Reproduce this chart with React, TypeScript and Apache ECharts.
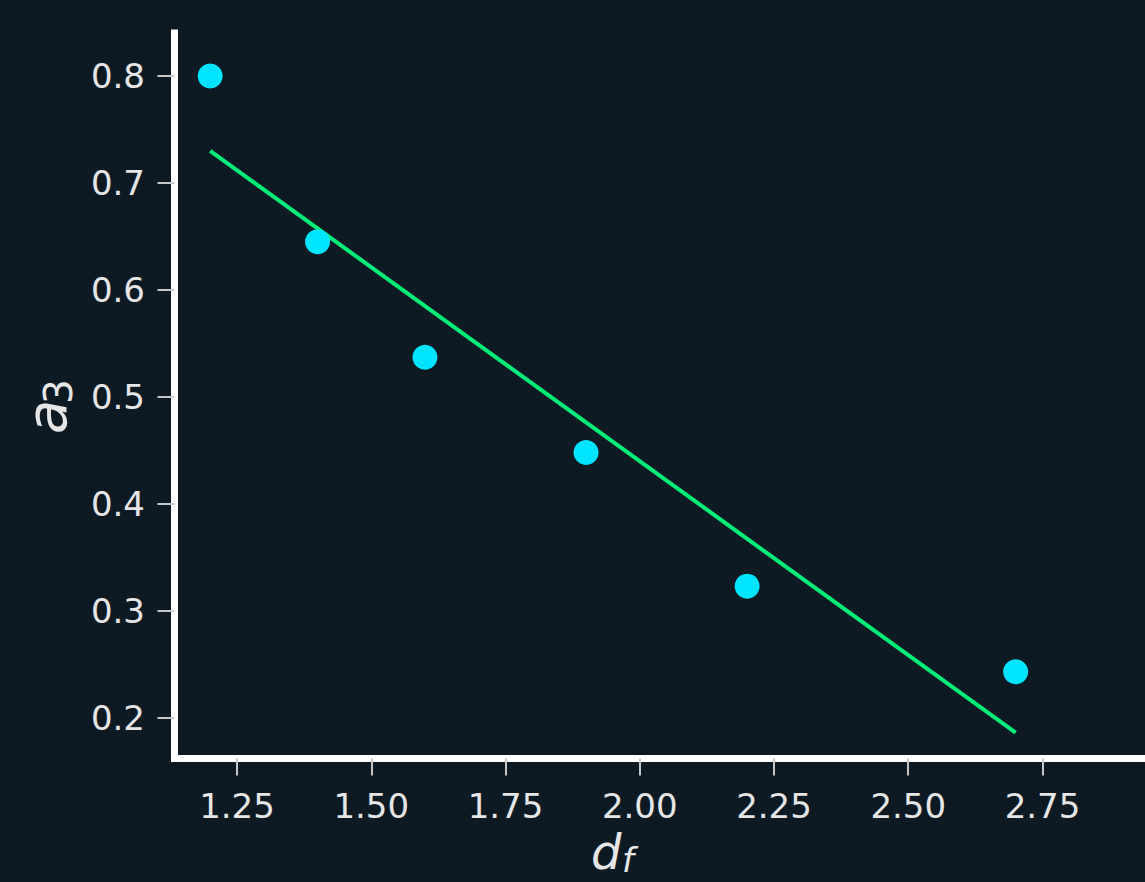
import React, { useEffect, useRef } from "react";
import * as echarts from "echarts";

const dfValues = [1.2, 1.4, 1.6, 1.9, 2.2, 2.7];
const a3Values = [0.8, 0.645, 0.537, 0.448, 0.323, 0.243];
const fitX = [1.2, 2.7];
const fitY = [0.73, 0.186];
const xTicks = [1.25, 1.5, 1.75, 2.0, 2.25, 2.5, 2.75];
const yTicks = [0.2, 0.3, 0.4, 0.5, 0.6, 0.7, 0.8];

const BG = "#0d1a24";
const TEXT = "#e6e6e6";

export default function App() {
  const ref = useRef<HTMLDivElement>(null);
  useEffect(() => {
    document.body.style.margin = "0";
    document.body.style.background = BG;
    const chart = echarts.init(ref.current!, undefined, { renderer: "svg" });
    const labelFont = { fontFamily: "DejaVu Sans", fontSize: 34, color: TEXT };
    chart.setOption({
      animation: false,
      backgroundColor: BG,
      grid: { left: 174.5, right: 0, top: 33, bottom: 123.5, containLabel: false },
      xAxis: {
        type: "value",
        min: 1.1336,
        max: 2.9409,
        splitLine: { show: false },
        axisLine: { show: true, lineStyle: { color: "#ffffff", width: 7, cap: "square" } },
        axisTick: {
          show: true,
          customValues: xTicks,
          length: 17,
          lineStyle: { color: "#c8c8c8", width: 2 },
        },
        axisLabel: {
          ...labelFont,
          customValues: xTicks,
          margin: 30,
          formatter: (v: number) => v.toFixed(2),
        },
      },
      yAxis: {
        type: "value",
        min: 0.16185,
        max: 0.84021,
        splitLine: { show: false },
        axisLine: { show: true, lineStyle: { color: "#ffffff", width: 7, cap: "square" } },
        axisTick: {
          show: true,
          customValues: yTicks,
          length: 17,
          lineStyle: { color: "#c8c8c8", width: 2 },
        },
        axisLabel: {
          ...labelFont,
          customValues: yTicks,
          margin: 29.5,
          formatter: (v: number) => v.toFixed(1),
        },
      },
      series: [
        {
          type: "line",
          data: fitX.map((x, i) => [x, fitY[i]]),
          showSymbol: false,
          symbol: "none",
          lineStyle: { color: "#00ee78", width: 4 },
          z: 2,
        },
        {
          type: "scatter",
          data: dfValues.map((x, i) => [x, a3Values[i]]),
          symbolSize: 25,
          itemStyle: { color: "#00e5ff", opacity: 1 },
          z: 3,
        },
      ],
      graphic: [
        {
          type: "group",
          x: 66,
          y: 432,
          rotation: Math.PI / 2,
          children: [
            {
              type: "text",
              x: -2,
              y: -19.4,
              style: {
                text: "a",
                fontFamily: "DejaVu Sans",
                fontStyle: "italic",
                fontSize: 56,
                fill: TEXT,
                align: "left",
                verticalAlign: "middle",
              },
            },
            {
              type: "text",
              x: 28,
              y: -7.5,
              style: {
                text: "3",
                fontFamily: "DejaVu Sans",
                fontSize: 39,
                fill: TEXT,
                align: "left",
                verticalAlign: "middle",
              },
            },
          ],
        },
        {
          type: "text",
          x: 591,
          y: 852,
          style: {
            text: "d",
            fontFamily: "DejaVu Sans",
            fontStyle: "italic",
            fontSize: 48,
            fill: TEXT,
            align: "left",
            verticalAlign: "middle",
          },
        },
        {
          type: "text",
          x: 622,
          y: 860,
          style: {
            text: "f",
            fontFamily: "DejaVu Sans",
            fontStyle: "italic",
            fontSize: 34,
            fill: TEXT,
            align: "left",
            verticalAlign: "middle",
          },
        },
      ],
    });
    return () => chart.dispose();
  }, []);
  return <div ref={ref} style={{ width: 1145, height: 882 }} />;
}
